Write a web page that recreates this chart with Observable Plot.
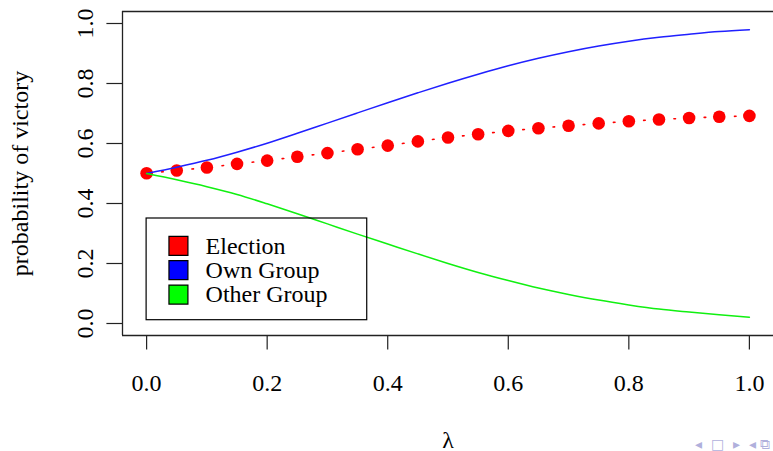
<!DOCTYPE html>
<html><head><meta charset="utf-8">
<script src="https://cdn.jsdelivr.net/npm/d3@7"></script>
<script src="https://cdn.jsdelivr.net/npm/@observablehq/plot@0.6"></script>
<style>html,body{margin:0;padding:0;background:#fff;overflow:hidden}</style>
</head><body><div id="chart"></div>
<script>
// ---- data ----
const lambda     = [0, 0.05, 0.1, 0.15, 0.2, 0.25, 0.3, 0.35, 0.4, 0.45, 0.5, 0.55, 0.6, 0.65, 0.7, 0.75, 0.8, 0.85, 0.9, 0.95, 1.0];
const election   = [0.501, 0.510, 0.520, 0.532, 0.543, 0.556, 0.568, 0.581, 0.593, 0.607, 0.620, 0.631, 0.642, 0.651, 0.659, 0.667, 0.674, 0.680, 0.685, 0.689, 0.692];
const ownGroup   = [0.500, 0.521, 0.544, 0.571, 0.601, 0.634, 0.668, 0.702, 0.736, 0.769, 0.801, 0.831, 0.859, 0.884, 0.906, 0.925, 0.941, 0.954, 0.964, 0.973, 0.979];
const otherGroup = [0.500, 0.479, 0.456, 0.430, 0.399, 0.366, 0.332, 0.298, 0.265, 0.232, 0.200, 0.170, 0.143, 0.118, 0.097, 0.078, 0.062, 0.048, 0.038, 0.029, 0.021];
const xTicks = [0, 0.2, 0.4, 0.6, 0.8, 1.0];
const yTicks = [0, 0.2, 0.4, 0.6, 0.8, 1.0];
const legendLabels = ["Election", "Own Group", "Other Group"];
const legendColors = ["#ff0000", "#0000ff", "#00ff00"];
const xLabel = "λ";
const yLabel = "probability of victory";

// ---- tables built from the arrays ----
const table = lambda.map((l, i) => ({lambda: l, election: election[i], own: ownGroup[i], other: otherGroup[i]}));

// legend layout (data units; anchored at lambda = 0, p = 0.35 like R's legend(x, y))
const legX = 0, legY = 0.35, legW = 0.366, legH = 0.339;
const legend = legendLabels.map((label, i) => ({
  label, color: legendColors[i],
  y: legY - (27.3 + 24.3 * i) / 299.4
}));

const serif = "'Liberation Serif', 'Times New Roman', serif";
const frameStroke = "#222";

const chart = Plot.plot({
  width: 773, height: 451,
  marginLeft: 122, marginRight: 0, marginTop: 11, marginBottom: 116,
  style: {fontFamily: serif, fontSize: "24px", background: "#fff", color: "#000", overflow: "visible"},
  x: {domain: [-0.04, 1.04]},
  y: {domain: [-0.04, 1.04]},
  marks: [
    // box (left, top, bottom; right side falls at the image edge)
    Plot.ruleX([-0.04], {stroke: frameStroke, strokeWidth: 1.3}),
    Plot.ruleY([-0.04, 1.04], {stroke: frameStroke, strokeWidth: 1.3}),
    Plot.axisX(xTicks, {tickSize: 14.5, tickPadding: 24, tickFormat: d3.format(".1f"), label: null, stroke: frameStroke, strokeWidth: 1.2}),
    Plot.axisY(yTicks, {tickSize: 15.6, tickPadding: 13.7, tickRotate: -90, tickFormat: d3.format(".1f"), label: null, stroke: frameStroke, strokeWidth: 1.2}),
    Plot.text([yLabel], {frameAnchor: "left", rotate: -90, dx: -95, lineAnchor: "bottom", textAnchor: "middle"}),
    Plot.text([xLabel], {frameAnchor: "bottom", dy: 112, lineAnchor: "bottom"}),
    // election: points joined by a dotted line
    Plot.dot(table, {x: "lambda", y: "election", r: 6.3, fill: "#ff0000", stroke: "none"}),
    Plot.line(table, {x: "lambda", y: "election", stroke: "#ff0000", strokeWidth: 1.6, strokeDasharray: "1.6,13.55"}),
    Plot.line(table, {x: "lambda", y: "own", stroke: "#2020ff", strokeWidth: 1.5, curve: "monotone-x"}),
    Plot.line(table, {x: "lambda", y: "other", stroke: "#10f010", strokeWidth: 1.5, curve: "monotone-x"}),
    // legend
    Plot.rect([0], {x1: legX, x2: legX + legW, y1: legY, y2: legY - legH, fill: "none", stroke: "#000", strokeWidth: 1.2}),
    Plot.dot(legend, {x: () => legX + 0.0528, y: "y", symbol: "square", r: 10.7, fill: "color", stroke: "#000", strokeWidth: 1.2}),
    Plot.text(legend, {x: () => legX + 0.0979, y: "y", text: "label", textAnchor: "start", lineAnchor: "middle"}),
    // beamer navigation symbols
    Plot.text(["◂  □  ▸  ◂ ⧉"], {frameAnchor: "bottom-right", dx: -3, dy: 113, lineAnchor: "bottom", textAnchor: "end", fontSize: 14, fontFamily: "DejaVu Sans", fill: "#b0b0dc"})
  ]
});
document.getElementById("chart").append(chart);
</script>
</body></html>
